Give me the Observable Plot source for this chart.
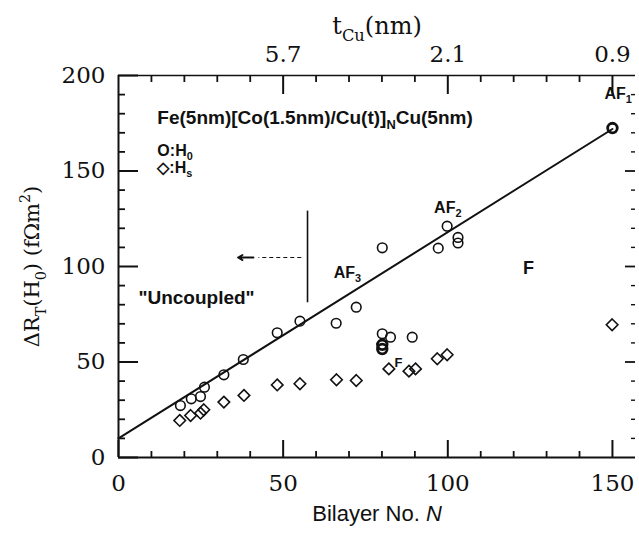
<!DOCTYPE html>
<html><head><meta charset="utf-8">
<script src="https://cdn.jsdelivr.net/npm/d3@7"></script>
<script src="https://cdn.jsdelivr.net/npm/@observablehq/plot@0.6"></script>
<style>body{margin:0;background:#fff}</style>
</head><body><div id="chart"></div>
<script>
// H0 data (circles)
const h0N = [18.8,22.1,24.9,26.1,32.0,37.9,48.2,55.1,66.1,72.2,80.1,82.6,89.2,80.1,97.1,99.8,103.1,103.1];
const h0R = [27.2,30.7,31.9,36.8,43.3,51.3,65.3,71.4,70.3,78.7,64.8,63.0,63.0,109.8,109.6,121.1,115.2,112.3];
const h0BoldN = [80.1,80.1,150];
const h0BoldR = [59.0,56.8,172.5];
// Hs data (diamonds)
const hsN = [18.6,21.9,24.9,25.9,32.0,38.1,48.2,55.1,66.2,72.2,82.1,88.2,90.2,96.8,99.8,149.9];
const hsR = [19.4,22.0,23.2,25.0,29.0,32.5,38.0,38.6,40.7,40.3,46.4,45.2,46.4,51.7,53.8,69.5];
// fitted line
const fitN = [0,150];
const fitR = [10,172];
// ticks
const majorX = [0,50,100,150];
const minorX = [10,20,30,40,60,70,80,90,110,120,130,140];
const majorY = [0,50,100,150,200];
const minorY = [10,20,30,40,60,70,80,90,110,120,130,140,160,170,180,190];
const topTickN = [50,100,150];
const topTickLabels = ["5.7","2.1","0.9"];
// annotations
const leftText = ["Fe(5nm)[Co(1.5nm)/Cu(t)]_NCu(5nm)", "O:H_0", "◇:H_s", "AF_1"];
const leftN = [11.8, 11.8, 11.8, 147.6];
const leftR = [178, 160.7, 151.8, 190.6];
const leftSize = [19, 16, 16, 16];
const midText = ["\"Uncoupled\"", "AF_3", "AF_2", "F", "F"];
const midN = [23.7, 69.5, 100, 124.5, 85];
const midR = [83.8, 96.9, 130.9, 99, 49.7];
const midSize = [19, 16, 16, 18, 13];
const dividerN = [57.4], dividerR1 = [81], dividerR2 = [129];
const arrowDashN = [55.5, 42.5], arrowR = [104.7];
const arrowHeadN = [41, 36.3];

const pts = (xs, ys) => xs.map((x,i) => ({N:x, R:ys[i]}));
const lab = (t, n, r, s) => t.map((d,i) => ({t:d, N:n[i], R:r[i], s:s[i]}));
const ink = "#111";
const W = 639, H = 538, mL = 118, mR = 4, mT = 75, mB = 81;
const fw = W - mL - mR, fh = H - mT - mB;
// inward tick helpers (rules inset to a short length from one frame edge)
const tickB = (v, len, sw) => Plot.ruleX(v, {x: d => d, insetTop: fh - len, stroke: ink, strokeWidth: sw});
const tickT = (v, len, sw) => Plot.ruleX(v, {x: d => d, insetBottom: fh - len, stroke: ink, strokeWidth: sw});
const tickL = (v, len, sw) => Plot.ruleY(v, {y: d => d, insetRight: fw - len, stroke: ink, strokeWidth: sw});
const tickR = (v, len, sw) => Plot.ruleY(v, {y: d => d, insetLeft: fw - len, stroke: ink, strokeWidth: sw});

const chart = Plot.plot({
  width: W, height: H,
  marginLeft: mL, marginRight: mR, marginTop: mT, marginBottom: mB,
  x: {domain: [0,157]},
  y: {domain: [0,200]},
  style: {fontFamily: "DejaVu Serif", fontSize: "23px", color: ink, background: "#fff", overflow: "visible"},
  marks: [
    Plot.axisX(majorX, {anchor: "bottom", tickSize: 0, tickPadding: 17, label: null}),
    Plot.axisX(topTickN, {anchor: "top", tickSize: 0, tickPadding: 14, tickFormat: d => topTickLabels[topTickN.indexOf(d)], label: null}),
    Plot.axisY(majorY, {anchor: "left", tickSize: 0, tickPadding: 13, label: null}),
    tickB(majorX, 17, 2), tickB(minorX, 6, 1.8),
    tickT(topTickN, 19, 2), tickT(minorX, 7, 1.8),
    tickL(majorY, 20, 2), tickL(minorY, 7, 1.8),
    tickR([50,100,150], 10, 1.8), tickR(minorY, 4, 1.4),
    Plot.ruleX([0], {stroke: ink, strokeWidth: 2}),
    Plot.ruleY([0], {stroke: ink, strokeWidth: 2}),
    Plot.ruleY([200], {stroke: ink, strokeWidth: 1.6}),
    // axis titles
    Plot.text(["t_{Cu}(nm)"], {text: d => d, frameAnchor: "top", dy: -59, fontSize: 24, fontFamily: "DejaVu Serif", fill: ink}),
    Plot.text(["Bilayer No. *N"], {text: d => d, frameAnchor: "bottom", dy: 63, fontSize: 22, letterSpacing: 1.6, fontFamily: "Liberation Sans", fill: ink}),
    Plot.text(["ΔR_T(H_0) (fΩm^2)"], {text: d => d, frameAnchor: "left", textAnchor: "middle", dx: -86, rotate: -90, fontSize: 21, letterSpacing: 0.3, fontFamily: "DejaVu Serif", fill: ink}),
    // fit line
    Plot.line(pts(fitN, fitR), {x: "N", y: "R", stroke: ink, strokeWidth: 2}),
    // divider and arrow
    Plot.ruleX(dividerN, {x: d => d, y1: dividerR1[0], y2: dividerR2[0], stroke: ink, strokeWidth: 1.6}),
    Plot.link([0], {x1: arrowDashN[0], x2: arrowDashN[1], y1: arrowR[0], y2: arrowR[0], stroke: ink, strokeWidth: 1.2, strokeDasharray: "4,3"}),
    Plot.arrow([0], {x1: arrowHeadN[0], x2: arrowHeadN[1], y1: arrowR[0], y2: arrowR[0], stroke: ink, strokeWidth: 1.8, headLength: 8}),
    // data
    Plot.dot(pts(hsN, hsR), {x: "N", y: "R", symbol: "diamond2", r: 5.2, stroke: ink, strokeWidth: 1.6, fill: "none"}),
    Plot.dot(pts(h0N, h0R), {x: "N", y: "R", r: 4.8, stroke: ink, strokeWidth: 1.6, fill: "none"}),
    Plot.dot(pts(h0BoldN, h0BoldR), {x: "N", y: "R", r: 4.8, stroke: ink, strokeWidth: 2.8, fill: "none"}),
    // annotations
    Plot.text(lab(leftText, leftN, leftR, leftSize), {x: "N", y: "R", text: "t", fontSize: d => d.s, letterSpacing: 0.8, textAnchor: "start", fontFamily: "Liberation Sans", fontWeight: "bold", fill: ink}),
    Plot.text(lab(midText, midN, midR, midSize), {x: "N", y: "R", text: "t", fontSize: d => d.s, letterSpacing: 1, fontFamily: "Liberation Sans", fontWeight: "bold", fill: ink})
  ]
});
document.getElementById("chart").append(chart);

// rich text: _x subscript, ^x superscript, *x italic
function rich(el) {
  const s = el.textContent;
  if (!/[_^*]/.test(s) || el.querySelector("tspan")) return;
  const fs = parseFloat(getComputedStyle(el).fontSize) || 16;
  const parts = []; let buf = "";
  for (let i = 0; i < s.length; i++) {
    const c = s[i];
    if (c === "_" || c === "^" || c === "*") {
      let t;
      if (s[i+1] === "{") { const j = s.indexOf("}", i+2); t = s.slice(i+2, j); i = j; }
      else { t = s[i+1]; i++; }
      if (buf) { parts.push({t: buf, k: "n"}); buf = ""; }
      parts.push({t, k: c});
    } else buf += c;
  }
  if (buf) parts.push({t: buf, k: "n"});
  el.textContent = "";
  let shift = 0;
  for (const p of parts) {
    const ts = document.createElementNS("http://www.w3.org/2000/svg", "tspan");
    const target = p.k === "_" ? 0.3 * fs : p.k === "^" ? -0.45 * fs : 0;
    ts.setAttribute("dy", (target - shift).toFixed(2)); shift = target;
    if (p.k === "_" || p.k === "^") ts.setAttribute("font-size", (0.68 * fs).toFixed(1));
    if (p.k === "*") ts.setAttribute("font-style", "italic");
    ts.textContent = p.t;
    el.appendChild(ts);
  }
}
chart.querySelectorAll("text").forEach(rich);
</script>
</body></html>
